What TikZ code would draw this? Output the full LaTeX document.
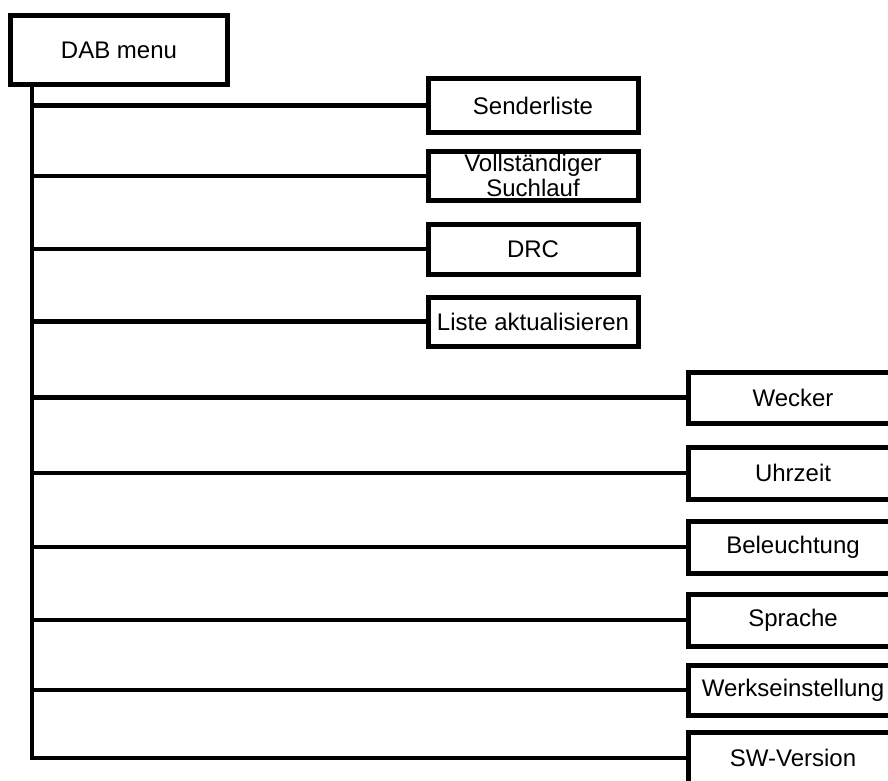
\documentclass[tikz,border=0pt]{standalone}
\usepackage{fontspec}
\setmainfont{Liberation Sans}
\begin{document}
\begin{tikzpicture}[x=1pt,y=-1pt,
  box/.style={draw=black,line width=5pt,fill=white,minimum width=210pt,minimum height=52pt,inner sep=0pt,font=\fontsize{24}{25}\selectfont},
  conn/.style={draw=black,line width=4.6pt,line join=miter,line cap=butt}]
\useasboundingbox (0,0) rectangle (888,781);
\clip (0,0) rectangle (888,781);
\node[box,minimum width=217pt,minimum height=69pt] (dab) at (119,50) {DAB menu};
\coordinate (tr) at (32,0);
\node[box,minimum height=53pt] (s1) at (533,105.5) {Senderliste};
\node[box,minimum height=49pt,text height=15pt,text depth=25pt] (s2) at (533,176) {\begin{tabular}[t]{@{}c@{}}Vollständiger\\Suchlauf\end{tabular}};
\node[box,minimum height=50pt] (s3) at (533,249) {DRC};
\node[box,minimum height=49pt] (s4) at (533,321.5) {Liste aktualisieren};
\node[box,minimum height=51pt] (r1) at (793,397.5) {Wecker};
\node[box,minimum height=52pt] (r2) at (793,473) {Uhrzeit};
\node[box,minimum height=52pt] (r3) at (793,547) {Beleuchtung};
\node[box,minimum height=52pt] (r4) at (793,620) {Sprache};
\node[box,minimum height=50pt] (r5) at (793,690) {Werkseinstellung};
\node[box,minimum height=52pt] (r6) at (793,758) {SW-Version};
\draw[conn] (dab.south -| tr) -- (tr |- r6.west) -- (r6.west);
\foreach \n in {s1,s2,s3,s4,r1,r2,r3,r4,r5}{
  \draw[conn] (tr |- \n.west) -- (\n.west);
}
\end{tikzpicture}
\end{document}
